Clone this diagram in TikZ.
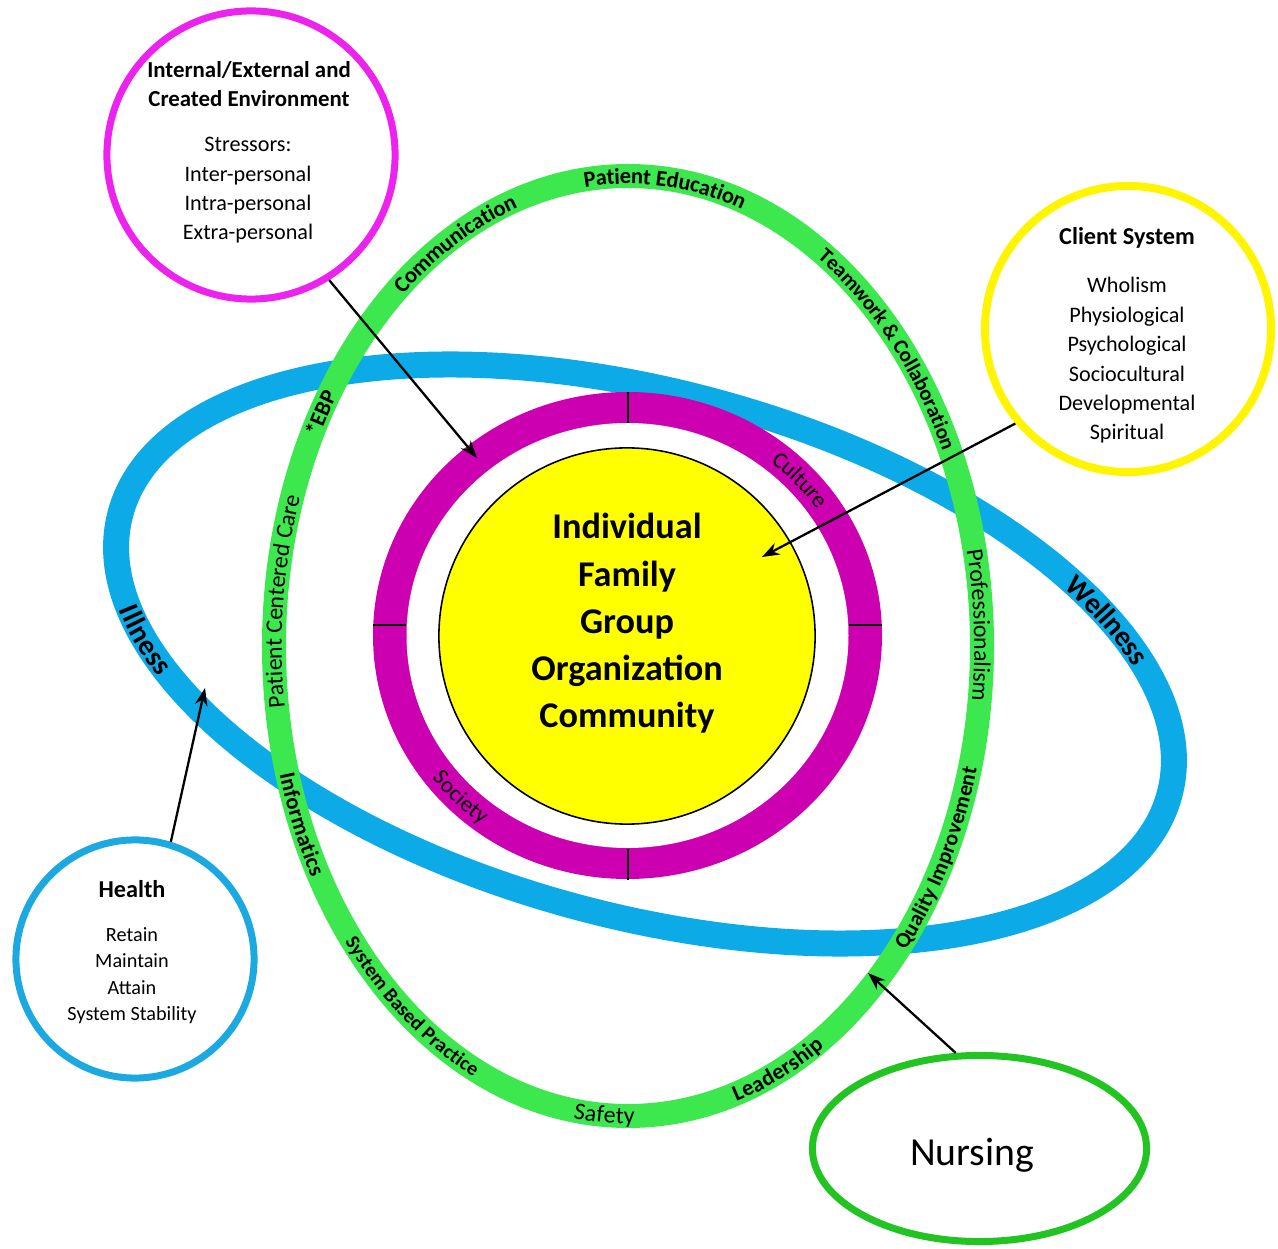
\documentclass[tikz,border=0pt]{standalone}
\usepackage{fontspec}
\setmainfont{Carlito}
\usetikzlibrary{decorations.text,arrows.meta,shapes.geometric}

\definecolor{ringblue}{HTML}{0CABE8}
\definecolor{ringgreen}{HTML}{3DE84E}
\definecolor{ringmag}{HTML}{CC00B0}
\definecolor{envmag}{HTML}{EE22EE}
\definecolor{coreyellow}{HTML}{FFFF00}
\definecolor{clientyellow}{HTML}{FFF500}
\definecolor{healthblue}{HTML}{1CA9E1}
\definecolor{nursegreen}{HTML}{22C422}

\newcommand{\ringfont}{\fontsize{6.8}{8}\selectfont}
\newcommand{\ringbold}{\fontsize{6.4}{8}\selectfont\bfseries}
\newcommand{\bigring}{\fontsize{8.3}{10}\selectfont\bfseries}
\newcommand{\headfont}{\fontsize{6.5}{8.25}\selectfont\bfseries}
\newcommand{\bodyfont}{\fontsize{6.3}{8.35}\selectfont}
\newcommand{\healthfont}{\fontsize{5.75}{7.5}\selectfont}
\newcommand{\corefont}{\fontsize{10.3}{13.44}\selectfont\bfseries}
\newcommand{\nursefont}{\fontsize{11.3}{13}\selectfont}

\tikzset{
  ringlabel/.style={decorate, decoration={text along path, text align=center, raise=-2.2pt, text={#1}}},
  outerring/.style={draw=#1, line width=0.07cm, inner sep=0pt},
  txt/.style={align=center, inner sep=0pt},
  conn/.style={line width=0.65pt, -{Stealth[length=5pt, width=3.6pt]}},
  ringtick/.style={line width=0.5pt},
}

\begin{document}
\begin{tikzpicture}[x=0.01cm, y=0.01cm]
  \useasboundingbox (0,0) rectangle (1278,-1249);
  % Anillo azul
  \draw[ringblue, line width=0.26cm, rotate around={-15:(645,-654)}] (645,-654) ellipse [x radius=543, y radius=262];
  % Anillo verde
  \draw[ringgreen, line width=0.24cm] (628,-646) ellipse [x radius=354, y radius=470];
  % Textos del anillo azul
  \begin{scope}[shift={(645,-654)}, rotate=-15]
    \path[ringlabel={|\bigring|Illness}, decoration={raise=-2.8pt}] (191:543 and 262) arc[start angle=191, end angle=219, x radius=543, y radius=262];
    \path[ringlabel={|\bigring|Wellness}, decoration={raise=-2.8pt}] (52:543 and 262) arc[start angle=52, end angle=16, x radius=543, y radius=262];
  \end{scope}
  % Textos del anillo verde
  \begin{scope}[shift={(628,-646)}]
    \path[ringlabel={|\ringbold|Patient Education}] (102:354 and 470) arc[start angle=102, end angle=66, x radius=354, y radius=470];
    \path[ringlabel={|\ringbold|Communication}] (134.4:354 and 470) arc[start angle=134.4, end angle=104.4, x radius=354, y radius=470];
    \path[ringlabel={|\ringbold|*EBP}] (157.2:354 and 470) arc[start angle=157.2, end angle=143.2, x radius=354, y radius=470];
    \path[ringlabel={|\ringfont|Patient Centered Care}] (191.4:354 and 470) arc[start angle=191.4, end angle=157.4, x radius=354, y radius=470];
    \path[ringlabel={|\ringbold|Informatics}] (192.5:354 and 470) arc[start angle=192.5, end angle=212.5, x radius=354, y radius=470];
    \path[ringlabel={|\fontsize{5.7}{7}\selectfont\bfseries|System Based Practice}, decoration={raise=-1.9pt}] (215.8:354 and 470) arc[start angle=215.8, end angle=247.8, x radius=354, y radius=470];
    \path[ringlabel={|\ringfont|Safety}] (258.2:354 and 470) arc[start angle=258.2, end angle=274.2, x radius=354, y radius=470];
    \path[ringlabel={|\ringbold|Leadership}] (283.9:354 and 470) arc[start angle=283.9, end angle=305.9, x radius=354, y radius=470];
    \path[ringlabel={|\fontsize{6.2}{8}\selectfont\bfseries|Quality Improvement}, decoration={raise=-2pt}] (315.4:354 and 470) arc[start angle=315.4, end angle=349.4, x radius=354, y radius=470];
    \path[ringlabel={|\ringfont|Professionalism}] (15.6:354 and 470) arc[start angle=15.6, end angle=-10.4, x radius=354, y radius=470];
    \path[ringlabel={|\fontsize{6}{7}\selectfont\bfseries|Teamwork {\&} Collaboration}, decoration={raise=-2pt}] (61.1:354 and 470) arc[start angle=61.1, end angle=21.1, x radius=354, y radius=470];
  \end{scope}
  % Anillo magenta y nucleo
  \fill[ringmag] (627.5,-635.5) ellipse [x radius=254.5, y radius=243.5];
  \fill[white] (627.5,-635.5) ellipse [x radius=221, y radius=212.5];
  \draw[ringtick] (628,-392) -- (628,-423);
  \draw[ringtick] (628,-849) -- (628,-880);
  \draw[ringtick] (373,-625) -- (406,-625);
  \draw[ringtick] (849,-625) -- (882,-625);
  \begin{scope}[shift={(627.5,-635.5)}]
    \path[ringlabel={|\fontsize{6.5}{8}\selectfont|Culture}, decoration={raise=-2.1pt}] (54.2:238 and 228) arc[start angle=54.2, end angle=32.2, x radius=238, y radius=228];
    \path[ringlabel={|\fontsize{6.5}{8}\selectfont|Society}, decoration={raise=-2.1pt}] (214.3:238 and 228) arc[start angle=214.3, end angle=236.3, x radius=238, y radius=228];
  \end{scope}
  \node[circle, fill=coreyellow, draw=black, line width=0.45pt, minimum size=3.76cm, inner sep=0pt] (core) at (627,-636) {};
  \node[txt, font=\corefont] (coretext) at (627,-623.5) {Individual\\Family\\Group\\Organization\\Community};
  % Circulos exteriores
  \node[outerring=envmag, circle, minimum size=2.88cm] (env) at (251,-155) {};
  \node[txt, font=\headfont] (envhead) at (249,-84.5) {Internal/External and\\Created Environment};
  \node[txt, font=\bodyfont] (envbody) at (248,-190.5) {Stressors:\\Inter-personal\\Intra-personal\\Extra-personal};
  \node[outerring=clientyellow, circle, line width=0.08cm, minimum size=2.86cm] (client) at (1128,-329) {};
  \node[txt, font=\fontsize{6.9}{8}\selectfont\bfseries] (clienthead) at (1127,-238) {Client System};
  \node[txt, font=\bodyfont] (clientbody) at (1127,-360.5) {Wholism\\Physiological\\Psychological\\Sociocultural\\Developmental\\Spiritual};
  \node[outerring=healthblue, circle, minimum size=2.38cm] (health) at (135,-959) {};
  \node[txt, font=\fontsize{6.9}{8}\selectfont\bfseries] (healthhead) at (132,-889) {Health};
  \node[txt, font=\healthfont] (healthbody) at (132,-975.5) {Retain\\Maintain\\Attain\\System Stability};
  \node[outerring=nursegreen, ellipse, minimum width=3.34cm, minimum height=1.86cm] (nursing) at (979.5,-1148.5) {};
  \node[txt, font=\nursefont] (nursetext) at (972,-1155) {Nursing};
  % Flechas
  \coordinate (envtip) at (477,-458);
  \coordinate (clienttip) at (762,-557);
  \coordinate (healthtip) at (205,-688);
  \coordinate (nursetip) at (868,-973);
  \draw[conn] (env.302) -- (envtip);
  \draw[conn] (client.220) -- (clienttip);
  \draw[conn] (health.73) -- (healthtip);
  \draw[conn] (nursing.104) -- (nursetip);
\end{tikzpicture}
\end{document}
